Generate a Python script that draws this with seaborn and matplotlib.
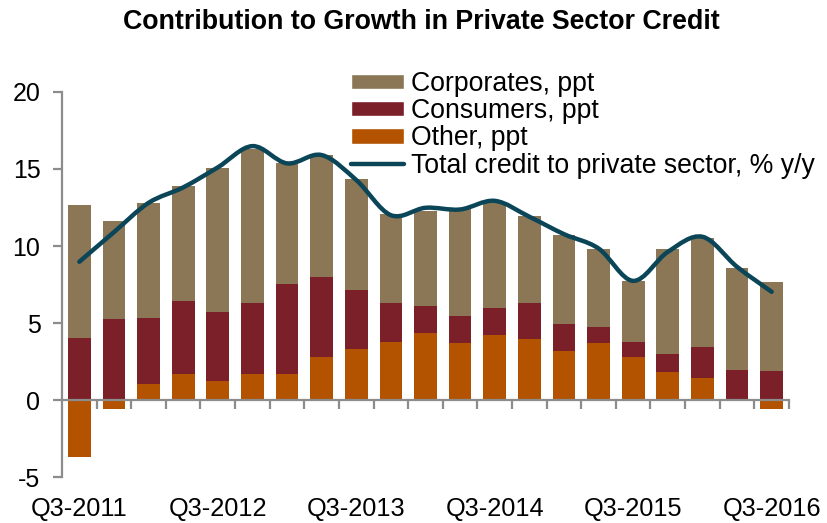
import numpy as np
import pandas as pd
import matplotlib
matplotlib.use("Agg")
import matplotlib.pyplot as plt
from matplotlib.path import Path
from matplotlib.patches import PathPatch, Patch
from matplotlib.lines import Line2D
import seaborn as sns

quarters = ["Q3-2011", "Q4-2011", "Q1-2012", "Q2-2012", "Q3-2012", "Q4-2012",
            "Q1-2013", "Q2-2013", "Q3-2013", "Q4-2013", "Q1-2014", "Q2-2014",
            "Q3-2014", "Q4-2014", "Q1-2015", "Q2-2015", "Q3-2015", "Q4-2015",
            "Q1-2016", "Q2-2016", "Q3-2016"]
other = [-3.7, -0.6, 1.04, 1.67, 1.23, 1.67, 1.67, 2.79, 3.31, 3.76, 4.39, 3.70,
         4.20, 3.96, 3.16, 3.70, 2.79, 1.86, 1.41, 0.0, -0.6]
consumers = [4.04, 5.28, 4.30, 4.78, 4.52, 4.65, 5.88, 5.19, 3.81, 2.56, 1.73, 1.75,
             1.81, 2.36, 1.77, 1.06, 0.99, 1.14, 2.03, 1.93, 1.90]
corporates = [8.61, 6.32, 7.42, 7.42, 9.32, 10.0, 7.81, 7.90, 7.22, 5.73, 6.16, 6.92,
              6.75, 5.62, 5.78, 5.04, 3.92, 6.78, 7.09, 6.64, 5.74]
total = [8.98, 10.9, 12.8, 13.8, 15.1, 16.48, 15.36, 15.9, 14.28, 12.0, 12.48, 12.37,
         12.93, 11.9, 10.77, 9.84, 7.74, 9.62, 10.6, 8.65, 7.03]
tick_labels = ["Q3-2011", "Q3-2012", "Q3-2013", "Q3-2014", "Q3-2015", "Q3-2016"]
series_names = ["Corporates, ppt", "Consumers, ppt", "Other, ppt",
                "Total credit to private sector, % y/y"]

c_corp = "#8B7755"
c_cons = "#7B1F28"
c_other = "#B35300"
c_line = "#0B4558"
c_axis = "#8C8C8C"

sns.set_theme(style="white")
plt.rcParams["font.family"] = ["Liberation Sans", "DejaVu Sans"]
plt.rcParams["axes.unicode_minus"] = False
plt.rcParams["text.color"] = "black"

df = pd.DataFrame({"quarter": quarters, "other": other, "consumers": consumers,
                   "corporates": corporates, "total": total})
pos_other = np.clip(df["other"].values, 0, None)
cons_bottom = pos_other
corp_bottom = pos_other + df["consumers"].values

fig = plt.figure(figsize=(8.27, 5.23), dpi=100)
ax = fig.add_axes([0.075, 0.0874, 0.879, 0.737])

bw = 0.655
sns.barplot(data=df, x="quarter", y="other", color=c_other, width=bw,
            saturation=1, ax=ax, zorder=2, edgecolor="none")
sns.barplot(data=df, x="quarter", y="consumers", color=c_cons, width=bw,
            saturation=1, ax=ax, bottom=cons_bottom, zorder=2, edgecolor="none")
sns.barplot(data=df, x="quarter", y="corporates", color=c_corp, width=bw,
            saturation=1, ax=ax, bottom=corp_bottom, zorder=2, edgecolor="none")

# smoothed total line (Catmull-Rom -> cubic Bezier through data points)
xs = np.arange(len(total), dtype=float)
ys = np.asarray(total, dtype=float)
P = np.column_stack([xs, ys])
Pe = np.vstack([P[0], P, P[-1]])
verts = [tuple(P[0])]
codes = [Path.MOVETO]
for i in range(len(P) - 1):
    p0, p1, p2, p3 = Pe[i], Pe[i + 1], Pe[i + 2], Pe[i + 3]
    c1 = p1 + (p2 - p0) / 6.0
    c2 = p2 - (p3 - p1) / 6.0
    verts += [tuple(c1), tuple(c2), tuple(p2)]
    codes += [Path.CURVE4] * 3
ax.add_patch(PathPatch(Path(verts, codes), fill=False, edgecolor=c_line,
                       linewidth=3.2, capstyle="round", joinstyle="round", zorder=4))

ax.set_xlim(-0.5, len(quarters) - 0.5)
ax.set_ylim(-5, 20)
ax.set_yticks([-5, 0, 5, 10, 15, 20])
ax.set_xlabel("")
ax.set_ylabel("")

for s in ["top", "right"]:
    ax.spines[s].set_visible(False)
ax.spines["left"].set_color(c_axis)
ax.spines["left"].set_linewidth(1.6)
ax.spines["bottom"].set_position(("data", 0))
ax.spines["bottom"].set_color(c_axis)
ax.spines["bottom"].set_linewidth(1.6)
ax.spines["bottom"].set_zorder(3)

ax.set_xticks(np.arange(len(quarters)) + 0.5)
ax.tick_params(axis="x", which="major", direction="out", length=6.5, width=1.6,
               color=c_axis, labelbottom=False, bottom=True)
ax.tick_params(axis="y", direction="out", length=6.5, width=1.6, color=c_axis,
               labelsize=18, pad=9, left=True, labelcolor="black")

sec = ax.secondary_xaxis("bottom")
sec.set_xticks([quarters.index(t) for t in tick_labels])
sec.set_xticklabels(tick_labels)
sec.spines["bottom"].set_visible(False)
sec.tick_params(length=0, labelsize=18.3, pad=14.5, labelcolor="black")

fig.text(421 / 827, 1 - 9 / 523, "Contribution to Growth in Private Sector Credit",
         ha="center", va="top", fontsize=19.3, fontweight="bold", color="black")

handles = [Patch(facecolor=c_corp), Patch(facecolor=c_cons), Patch(facecolor=c_other),
           Line2D([0], [0], color=c_line, linewidth=3.2, solid_capstyle="round")]
fig.legend(handles, series_names, loc="upper left",
           bbox_to_anchor=(351 / 827, 1 - 71 / 523), frameon=False, fontsize=19.2,
           borderpad=0, borderaxespad=0, handlelength=1.97, handleheight=0.5,
           handletextpad=0.28, labelspacing=0.045, labelcolor="black")

fig.savefig("out.png", dpi=100)
